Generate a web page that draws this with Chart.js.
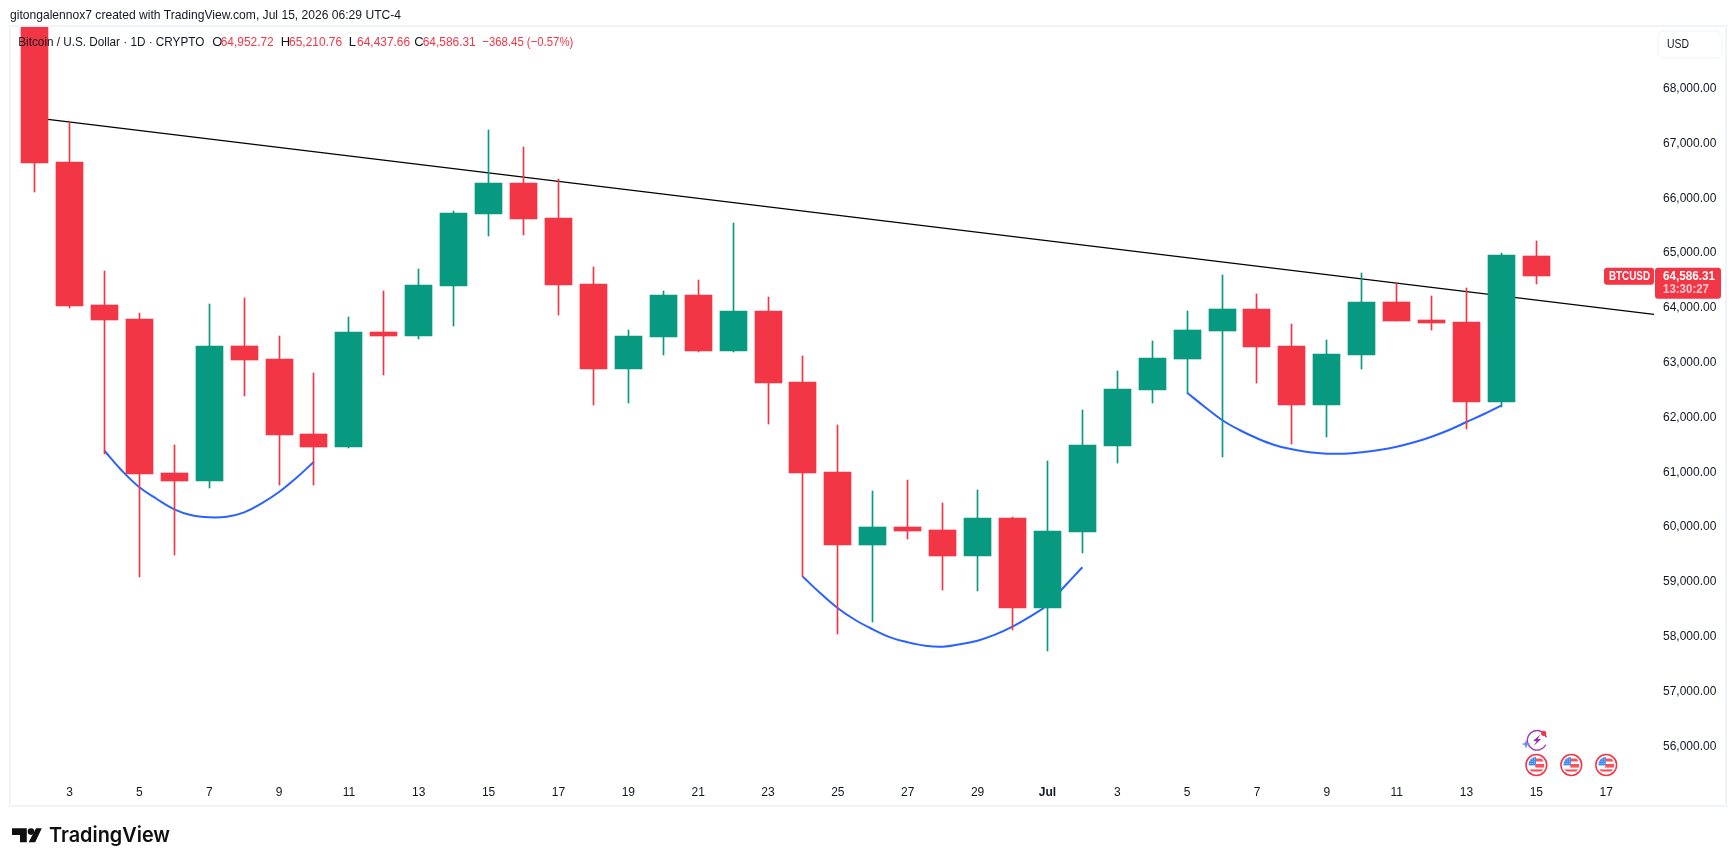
<!DOCTYPE html>
<html>
<head>
<meta charset="utf-8">
<title>BTCUSD daily</title>
<script src="https://cdn.jsdelivr.net/npm/chart.js@4"></script>
<style>
  html, body { margin: 0; padding: 0; background: #ffffff; }
  #wrap { position: relative; width: 1736px; height: 866px; }
</style>
</head>
<body>
<div id="wrap"><canvas id="chart" width="1736" height="866"></canvas></div>
<script>
// Daily BTC/USD candles from 2 June to 15 July, in calendar order.
const days = ["Jun 2","Jun 3","Jun 4","Jun 5","Jun 6","Jun 7","Jun 8","Jun 9","Jun 10","Jun 11","Jun 12","Jun 13","Jun 14","Jun 15","Jun 16","Jun 17","Jun 18","Jun 19","Jun 20","Jun 21","Jun 22","Jun 23","Jun 24","Jun 25","Jun 26","Jun 27","Jun 28","Jun 29","Jun 30","Jul 1","Jul 2","Jul 3","Jul 4","Jul 5","Jul 6","Jul 7","Jul 8","Jul 9","Jul 10","Jul 11","Jul 12","Jul 13","Jul 14","Jul 15"];
const opens  = [69600,66661,64051,63796,60985,60845,63303,63066,61697,61465,63558,63491,64403,65717,66277,65639,64434,62889,63473,64234,63217,63942,62646,61004,59677,60000,59945,59476,60164,58527,59914,61484,62506,63071,63582,63978,63303,62232,63144,64106,63777,63741,62287,64952.72];
const highs  = [70100,67396,64672,63905,61496,64069,64179,63486,62810,63832,64307,64708,65766,67245,66934,66345,64745,63595,64307,64507,65547,64197,63120,61861,60657,60858,60438,60675,60183,61204,62135,62847,63394,63942,64599,64252,63704,63413,64635,64458,64215,64361,65000,65210.76];
const lows   = [66119,64002,61327,59093,59495,60717,62396,60772,60772,61440,62779,63436,63673,65316,65334,63874,62232,62268,63144,63200,63200,61885,59093,58053,58272,59787,58856,58838,58126,57743,59531,61173,62268,62451,61283,62633,61520,61648,62889,63750,63600,61794,62195,64437.66];
const closes = [66648,64038,63783,60973,60845,63303,63053,61684,61465,63558,63491,64416,65730,66277,65626,64422,62889,63486,64234,63217,63942,62633,60991,59677,60000,59933,59476,60164,58527,59927,61496,62518,63084,63595,63978,63290,62232,63157,64106,63765,63728,62287,64954.76,64586.31];

// Hand-drawn annotations, as [candle position, price] pairs.
const trendline = [[0.38,67440],[46.368,63881]];
const leftCup = [[2,61392],[2.5,61027],[3,60725],[3.5,60511],[4,60323],[4.5,60213],[5,60177],[5.5,60188],[6,60268],[6.5,60433],[7,60639],[7.5,60900],[8,61192]];
const middleCup = [[22,59093],[22.5,58790],[23,58517],[23.5,58303],[24,58133],[24.5,57987],[25,57896],[25.5,57834],[26,57816],[26.5,57860],[27,57925],[27.5,58035],[28,58181],[28.5,58363],[29,58577],[29.5,58923],[30,59265]];
const rightCup = [[33,62451],[33.5,62195],[34,61953],[34.5,61770],[35,61619],[35.5,61496],[36,61418],[36.5,61363],[37,61338],[37.5,61338],[38,61363],[38.5,61405],[39,61465],[39.5,61546],[40,61648],[40.5,61770],[41,61916],[41.5,62062],[42,62221]];

// Tick labels on the time axis, keyed by candle position.
const dateTickPositions = [1,3,5,7,9,11,13,15,17,19,21,23,25,27,29,31,33,35,37,39,41,43,45];
const dateTickLabels = ["3","5","7","9","11","13","15","17","19","21","23","25","27","29","Jul","3","5","7","9","11","13","15","17"];

const priceTicks = [56000,57000,58000,59000,60000,61000,62000,63000,64000,65000,66000,67000,68000];
const eventPositions = [43,44,45];

// Header wording as the terminal prints it.
const byline = "gitongalennox7 created with TradingView.com, Jul 15, 2026 06:29 UTC-4";
const symbolLine = "Bitcoin / U.S. Dollar · 1D · CRYPTO";
const changeLine = "\u2212368.45 (\u22120.57%)";

const UP = "#089981", DOWN = "#f23645", INK = "#131722", FRAME = "#f0f3fa";
const UI_FONT = '"Liberation Sans", Arial, sans-serif';
const colorFor = i => closes[i] >= opens[i] ? UP : DOWN;
const fmt = v => v.toLocaleString("en-US", {minimumFractionDigits: 2, maximumFractionDigits: 2});
const toPoints = arr => arr.map(p => ({x: p[0], y: p[1]}));

// Bodies span open to close, wicks span low to high, both as floating bars.
const wickData = days.map((_, i) => ({x: i, y: [lows[i], highs[i]]}));
const bodyData = days.map((_, i) => ({x: i, y: [opens[i], closes[i]]}));

function roundedBox(ctx, x, y, w, h, r) {
  ctx.beginPath();
  ctx.roundRect(x, y, w, h, r);
}

// Pane frame, drawn behind everything.
const framePlugin = {
  id: "frame",
  beforeDraw(chart) {
    const c = chart.ctx;
    c.save();
    c.fillStyle = "#ffffff";
    c.fillRect(0, 0, 1736, 866);
    c.strokeStyle = FRAME;
    c.lineWidth = 2;
    c.strokeRect(10, 26, 1716, 780);
    c.restore();
  }
};

// Keeps candle edges on whole device pixels so wicks stay one pixel wide.
const crispCandles = {
  id: "crispCandles",
  beforeDatasetsDraw(chart) {
    chart.data.datasets.forEach((ds, i) => {
      if (ds.type !== "bar") return;
      chart.getDatasetMeta(i).data.forEach(el => {
        el.x = Math.floor(el.x) + 0.5;
        el.y = Math.round(el.y);
        el.base = Math.round(el.base);
      });
    });
  }
};

// One flag badge for an economic event.
function drawFlag(c, x, y) {
  c.save();
  c.beginPath(); c.arc(x, y, 10.4, 0, Math.PI * 2);
  c.fillStyle = "#ffffff"; c.fill();
  c.lineWidth = 1.5; c.strokeStyle = DOWN; c.stroke();
  c.beginPath(); c.arc(x, y, 8, 0, Math.PI * 2); c.clip();
  c.fillStyle = "#ffffff"; c.fillRect(x - 9, y - 9, 18, 18);
  c.fillStyle = "#f7525f";
  c.fillRect(x - 1, y - 6.5, 9, 3);
  c.fillRect(x - 1, y - 1, 9, 3.6);
  c.fillRect(x - 9, y + 4.4, 18, 2.2);
  c.fillStyle = "#3d8bf0";
  c.fillRect(x - 8, y - 8, 7.6, 8.4);
  c.fillStyle = "#bcd8fb";
  for (let i = 0; i < 3; i++) for (let j = 0; j < 3; j++) c.fillRect(x - 6.8 + i * 2.2, y - 6.4 + j * 2.2, 0.9, 0.9);
  c.restore();
}

// The spark badge that sits above the first event flag.
function drawSpark(c, x, y) {
  c.save();
  c.strokeStyle = "#a03cb4"; c.lineWidth = 1.4;
  c.beginPath(); c.arc(x, y, 9.8, 0.15 * Math.PI, 1.9 * Math.PI); c.stroke();
  c.fillStyle = "#9c27b0";
  c.beginPath();
  c.moveTo(x + 3.5, y - 6); c.lineTo(x - 4, y + 0.6); c.lineTo(x - 0.5, y + 0.6);
  c.lineTo(x - 3, y + 5.4); c.lineTo(x + 4, y - 1.2); c.lineTo(x + 0.6, y - 1.2);
  c.closePath(); c.fill();
  c.fillStyle = DOWN;
  c.beginPath(); c.arc(x + 6.6, y - 7, 2.6, 0, Math.PI * 2); c.fill();
  c.fillStyle = "#6f8cff";
  const sx = x - 11, sy = y + 3.8, a = 4.6, b = 1.2;
  c.beginPath();
  c.moveTo(sx, sy - a); c.lineTo(sx + b, sy - b); c.lineTo(sx + a, sy); c.lineTo(sx + b, sy + b);
  c.lineTo(sx, sy + a); c.lineTo(sx - b, sy + b); c.lineTo(sx - a, sy); c.lineTo(sx - b, sy - b);
  c.closePath(); c.fill();
  c.restore();
}

// Wordmark in the bottom-left corner.
function drawLogo(c) {
  c.save();
  c.fillStyle = "#0f0f0f";
  c.beginPath();
  c.moveTo(12, 828.3); c.lineTo(26.8, 828.3); c.lineTo(26.8, 842.3); c.lineTo(20, 842.3);
  c.lineTo(20, 835); c.lineTo(12, 835); c.closePath(); c.fill();
  c.beginPath(); c.arc(31, 831.6, 3.3, 0, Math.PI * 2); c.fill();
  c.beginPath();
  c.moveTo(36, 828.3); c.lineTo(41.8, 828.3); c.lineTo(35.2, 842.3); c.lineTo(28.6, 842.3); c.closePath(); c.fill();
  c.font = '600 20.5px Inter, "Liberation Sans", sans-serif';
  c.textBaseline = "middle"; c.textAlign = "left";
  c.fillText("TradingView", 49, 836, 121);
  c.restore();
}

// Header lines, price tags, currency chip, event badges and logo.
const overlayPlugin = {
  id: "overlay",
  afterDatasetsDraw(chart) {
    const c = chart.ctx, xs = chart.scales.x, ys = chart.scales.y;
    const last = closes.length - 1;
    c.save();
    c.textBaseline = "middle"; c.textAlign = "left";

    c.font = "13px " + UI_FONT;
    c.fillStyle = INK;
    c.fillText(byline, 10, 15, 391);

    c.font = "13px " + UI_FONT;
    c.fillText(symbolLine, 18.3, 42, 186);
    const ohlc = [["O", opens[last], 212.3], ["H", highs[last], 280.7], ["L", lows[last], 348.7], ["C", closes[last], 414.3]];
    ohlc.forEach(([k, v, x]) => {
      c.fillStyle = INK; c.fillText(k, x, 42);
      c.fillStyle = DOWN; c.fillText(fmt(v), x + 8.4, 42, 53);
    });
    c.fillStyle = DOWN;
    c.fillText(changeLine, 482.3, 42, 91);

    // Currency chip
    c.strokeStyle = FRAME; c.lineWidth = 1;
    roundedBox(c, 1658, 31, 64, 27, 6); c.stroke();
    c.fillStyle = INK; c.font = "13px " + UI_FONT;
    c.fillText("USD", 1667, 44.5, 22);

    // Last-price tags follow the closing price
    const py = ys.getPixelForValue(closes[last]);
    c.fillStyle = DOWN;
    roundedBox(c, 1655, py - 8, 66, 31, 3); c.fill();
    roundedBox(c, 1604, py - 8, 50, 17, 3); c.fill();
    c.fillStyle = "#ffffff";
    c.font = "bold 13px " + UI_FONT;
    c.fillText(fmt(closes[last]), 1663, py + 0.5, 52);
    c.fillText("BTCUSD", 1609, py + 0.5, 41);
    c.fillStyle = "#fbc9ce";
    c.fillText("13:30:27", 1663, py + 14, 46);

    // Event badges sit along the bottom of the pane
    eventPositions.forEach(p => drawFlag(c, xs.getPixelForValue(p), 765));
    drawSpark(c, xs.getPixelForValue(eventPositions[0]) + 0.7, 740.3);

    drawLogo(c);
    c.restore();
  }
};

const lineStyle = (label, data, color, width) => ({
  type: "line", label, data: toPoints(data), borderColor: color, borderWidth: width,
  pointRadius: 0, tension: 0.4, order: 5, clip: true
});

new Chart(document.getElementById("chart"), {
  type: "bar",
  data: {
    datasets: [
      {type: "bar", label: "Body", data: bodyData, backgroundColor: days.map((_, i) => colorFor(i)),
       barThickness: 27, order: 1, borderSkipped: false},
      {type: "bar", label: "Wick", data: wickData, backgroundColor: days.map((_, i) => colorFor(i)),
       barThickness: 1, order: 2, borderSkipped: false},
      lineStyle("Trendline", trendline, "#000000", 1.2),
      lineStyle("Left cup", leftCup, "#2962ff", 2),
      lineStyle("Middle cup", middleCup, "#2962ff", 2),
      lineStyle("Right cup", rightCup, "#2962ff", 2)
    ]
  },
  plugins: [framePlugin, crispCandles, overlayPlugin],
  options: {
    responsive: false,
    animation: false,
    events: [],
    layout: {padding: {left: 11, top: 27, right: 0, bottom: 0}},
    plugins: {legend: {display: false}, tooltip: {enabled: false}},
    datasets: {bar: {grouped: false}},
    scales: {
      x: {
        type: "linear", stacked: false, offset: false,
        min: -0.6757, max: 46.368,
        grid: {display: false, drawTicks: false}, border: {display: false},
        afterBuildTicks(scale) { scale.ticks = dateTickPositions.map(v => ({value: v})); },
        afterFit(scale) { scale.height = 85; scale.paddingLeft = 0; scale.paddingRight = 0; },
        ticks: {
          autoSkip: false, maxRotation: 0, padding: 4,
          color: INK,
          font(ctx) {
            const monthTick = ctx.tick && dateTickLabels[dateTickPositions.indexOf(ctx.tick.value)] === "Jul";
            return {family: UI_FONT, size: 12, weight: monthTick ? "bold" : "normal"};
          },
          callback(v) { return dateTickLabels[dateTickPositions.indexOf(v)]; }
        }
      },
      y: {
        position: "right",
        min: 55365, max: 69124,
        grid: {display: false, drawTicks: false}, border: {display: false},
        afterBuildTicks(scale) { scale.ticks = priceTicks.map(v => ({value: v})); },
        afterFit(scale) { scale.width = 82; scale.paddingTop = 0; scale.paddingBottom = 0; },
        ticks: {
          padding: 9, color: INK, font: {family: UI_FONT, size: 12}, align: "center", crossAlign: "near",
          callback(v) { return fmt(v); }
        }
      }
    }
  }
});
</script>
</body>
</html>
